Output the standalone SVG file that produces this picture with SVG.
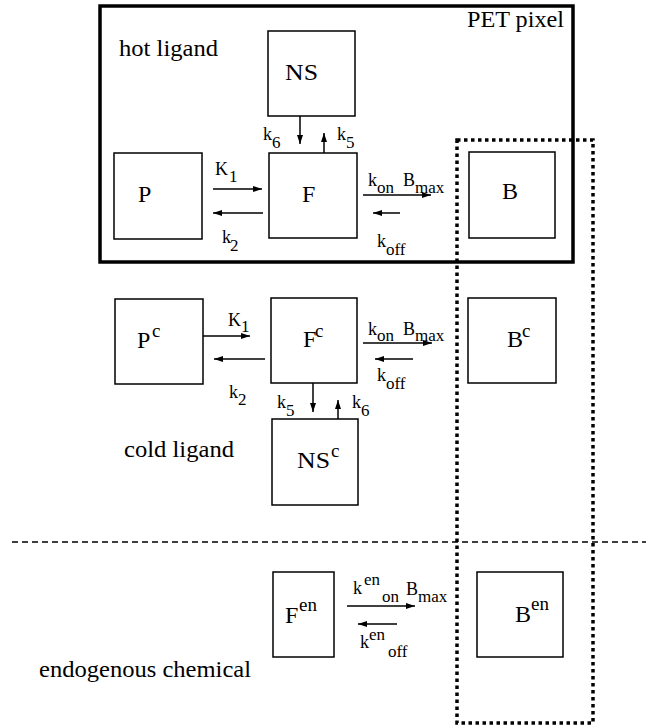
<svg xmlns="http://www.w3.org/2000/svg" width="646" height="727" viewBox="0 0 646 727">
<style>
  text { font-family: "Liberation Serif", "DejaVu Serif", serif; fill: #000; }
  .box { fill: none; stroke: #000; stroke-width: 1.5; }
  .lbl { font-size: 24px; }
  .sup { font-size: 19px; }
  .k { font-size: 18px; }
  .ks { font-size: 17px; }
  .region { font-size: 23px; }
  .arr { stroke: #000; stroke-width: 1.5; fill: none; marker-end: url(#ah); }
</style>
<defs>
  <marker id="ah" viewBox="0 0 9 6" refX="9" refY="3" markerWidth="9" markerHeight="6" markerUnits="userSpaceOnUse" orient="auto">
    <path d="M0,0 L9,3 L0,6 z" fill="#000"/>
  </marker>
</defs>
<rect width="646" height="727" fill="#fff"/>

<g id="pet-pixel">
  <rect x="100" y="6" width="473" height="256" fill="none" stroke="#000" stroke-width="3.5"/>
  <text class="region" x="467" y="27" textLength="97" lengthAdjust="spacingAndGlyphs">PET pixel</text>
</g>
<g id="binding-region">
  <rect x="457" y="140" width="136" height="583" fill="none" stroke="#000" stroke-width="3.5" stroke-dasharray="3.5 3.5"/>
</g>
<g id="separator">
  <line x1="12" y1="542" x2="646" y2="542" stroke="#000" stroke-width="1.5" stroke-dasharray="6 4"/>
</g>

<g id="region-labels">
  <text class="region" x="119" y="56" textLength="99" lengthAdjust="spacingAndGlyphs">hot ligand</text>
  <text class="region" x="124" y="457" textLength="110" lengthAdjust="spacingAndGlyphs">cold ligand</text>
  <text class="region" x="39" y="677" textLength="212" lengthAdjust="spacingAndGlyphs">endogenous chemical</text>
</g>

<!-- hot ligand nodes -->
<g id="NS"><rect class="box" x="268" y="31" width="87" height="85"/><text class="lbl" x="285" y="80" textLength="33" lengthAdjust="spacingAndGlyphs">NS</text></g>
<g id="P"><rect class="box" x="114" y="153" width="88" height="86"/><text class="lbl" x="138" y="202">P</text></g>
<g id="F"><rect class="box" x="269" y="153" width="88" height="85"/><text class="lbl" x="302" y="202">F</text></g>
<g id="B"><rect class="box" x="469" y="152" width="86" height="86"/><text class="lbl" x="502" y="199">B</text></g>

<!-- cold ligand nodes -->
<g id="Pc"><rect class="box" x="115" y="299" width="88" height="85"/><text class="lbl" x="137" y="348">P</text><text class="sup" x="152" y="337">c</text></g>
<g id="Fc"><rect class="box" x="271" y="298" width="86" height="85"/><text class="lbl" x="303" y="347">F</text><text class="sup" x="315" y="337">c</text></g>
<g id="Bc"><rect class="box" x="468" y="298" width="88" height="85"/><text class="lbl" x="507" y="347">B</text><text class="sup" x="522" y="337">c</text></g>
<g id="NSc"><rect class="box" x="272" y="419" width="86" height="86"/><text class="lbl" x="297" y="468" textLength="33" lengthAdjust="spacingAndGlyphs">NS</text><text class="sup" x="331" y="457">c</text></g>

<!-- endogenous nodes -->
<g id="Fen"><rect class="box" x="273" y="572" width="61" height="85"/><text class="lbl" x="285" y="623">F</text><text class="sup" x="299" y="611">en</text></g>
<g id="Ben"><rect class="box" x="477" y="572" width="86" height="85"/><text class="lbl" x="515" y="622">B</text><text class="sup" x="531" y="610">en</text></g>

<g id="connectors">
  <!-- hot -->
  <line class="arr" x1="213" y1="189" x2="262" y2="189"/>
  <line class="arr" x1="263" y1="213" x2="213" y2="213"/>
  <line class="arr" x1="363" y1="195" x2="431" y2="195"/>
  <line class="arr" x1="400" y1="213" x2="373" y2="213"/>
  <line class="arr" x1="300" y1="116" x2="300" y2="144"/>
  <line class="arr" x1="324" y1="153" x2="324" y2="133"/>
  <!-- cold -->
  <line class="arr" x1="203" y1="336" x2="250" y2="336"/>
  <line class="arr" x1="265" y1="359" x2="214" y2="359"/>
  <line class="arr" x1="363" y1="343" x2="432" y2="343"/>
  <line class="arr" x1="413" y1="359" x2="375" y2="359"/>
  <line class="arr" x1="313" y1="383" x2="313" y2="412"/>
  <line class="arr" x1="338" y1="419" x2="338" y2="400"/>
  <!-- endogenous -->
  <line class="arr" x1="347" y1="606" x2="415" y2="606"/>
  <line class="arr" x1="397" y1="624" x2="358" y2="624"/>

  <g id="rate-labels">
    <!-- hot -->
    <text class="k" x="215" y="175">K</text><text class="ks" x="229" y="182">1</text>
    <text class="k" x="222" y="243">k</text><text class="ks" x="230" y="251">2</text>
    <text class="k" x="263" y="140">k</text><text class="ks" x="272" y="148">6</text>
    <text class="k" x="337" y="140">k</text><text class="ks" x="346" y="148">5</text>
    <text class="k" x="368" y="186">k</text><text class="ks" x="377" y="193">on</text>
    <text class="k" x="403" y="186">B</text><text class="ks" x="415" y="193">max</text>
    <text class="k" x="377" y="247">k</text><text class="ks" x="386" y="255">off</text>
    <!-- cold -->
    <text class="k" x="228" y="326">K</text><text class="ks" x="241" y="332">1</text>
    <text class="k" x="229" y="398">k</text><text class="ks" x="238" y="405">2</text>
    <text class="k" x="277" y="408">k</text><text class="ks" x="286" y="416">5</text>
    <text class="k" x="352" y="408">k</text><text class="ks" x="361" y="416">6</text>
    <text class="k" x="368" y="335">k</text><text class="ks" x="377" y="341">on</text>
    <text class="k" x="403" y="335">B</text><text class="ks" x="415" y="341">max</text>
    <text class="k" x="377" y="381">k</text><text class="ks" x="386" y="389">off</text>
    <!-- endogenous -->
    <text class="k" x="353" y="594">k</text><text class="ks" x="364" y="585">en</text>
    <text class="ks" x="382" y="602">on</text>
    <text class="k" x="406" y="595">B</text><text class="ks" x="418" y="602">max</text>
    <text class="k" x="360" y="648">k</text><text class="ks" x="369" y="640">en</text>
    <text class="ks" x="388" y="657">off</text>
  </g>
</g>
</svg>
